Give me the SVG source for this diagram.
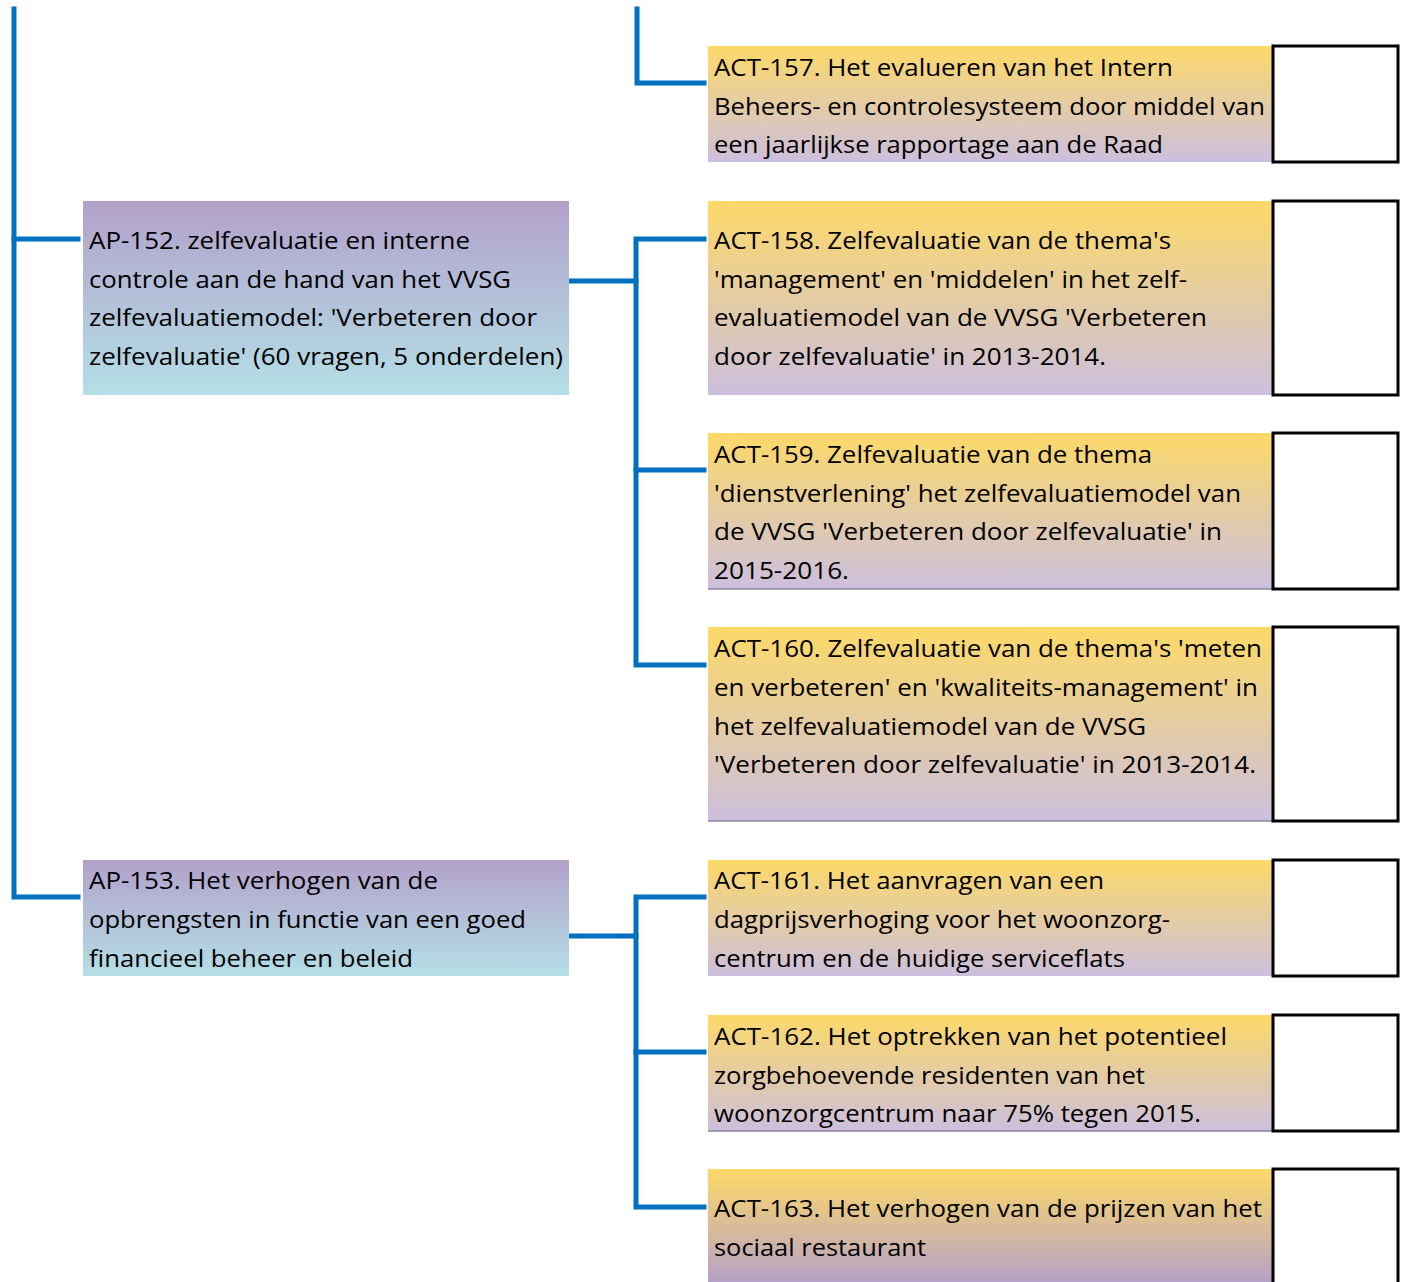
<svg xmlns="http://www.w3.org/2000/svg" width="1404" height="1282" viewBox="0 0 1404 1282">
<defs>
<linearGradient id="gAct" x1="0" y1="0" x2="0" y2="1">
<stop offset="0" stop-color="#FDD968"/>
<stop offset="1" stop-color="#CCBFDE"/>
</linearGradient>
<linearGradient id="gAct163" x1="0" y1="0" x2="0" y2="1">
<stop offset="0" stop-color="#FDD968"/>
<stop offset="1" stop-color="#B5A0C8"/>
</linearGradient>
<linearGradient id="gAp" x1="0" y1="0" x2="0" y2="1">
<stop offset="0" stop-color="#B3A1CA"/>
<stop offset="1" stop-color="#B3DFE6"/>
</linearGradient>
<style>
.conn{fill:none;stroke:#0070C0;stroke-width:5;stroke-linejoin:miter;stroke-linecap:square}
.t{font-family:"Open Sans","Liberation Sans",sans-serif;font-size:24px;fill:#000}
.chk{fill:#fff;stroke:#000;stroke-width:3}
.bl{stroke:#8C84A0;stroke-width:1.5}
</style>
</defs>

<g id="connectors">
<path class="conn" d="M14,9 V897 H78"/>
<path class="conn" d="M14,239 H78"/>
<path class="conn" d="M637,9 V83 H704"/>
<path class="conn" d="M571,281 H636"/>
<path class="conn" d="M704,239 H636 V665 H704"/>
<path class="conn" d="M636,470 H704"/>
<path class="conn" d="M571,936 H636"/>
<path class="conn" d="M704,897 H636 V1207 H704"/>
<path class="conn" d="M636,1052 H704"/>
</g>

<g id="ap152">
<rect x="83" y="201" width="486" height="194" fill="url(#gAp)"/>
<text class="t" x="89" y="249" textLength="381" lengthAdjust="spacingAndGlyphs">AP-152. zelfevaluatie en interne</text>
<text class="t" x="89" y="288" textLength="422" lengthAdjust="spacingAndGlyphs">controle aan de hand van het VVSG</text>
<text class="t" x="89" y="326" textLength="448" lengthAdjust="spacingAndGlyphs">zelfevaluatiemodel: 'Verbeteren door</text>
<text class="t" x="89" y="365" textLength="474" lengthAdjust="spacingAndGlyphs">zelfevaluatie' (60 vragen, 5 onderdelen)</text>
</g>

<g id="ap153">
<rect x="83" y="860" width="486" height="116" fill="url(#gAp)"/>
<text class="t" x="89" y="889" textLength="349" lengthAdjust="spacingAndGlyphs">AP-153. Het verhogen van de</text>
<text class="t" x="89" y="928" textLength="437" lengthAdjust="spacingAndGlyphs">opbrengsten in functie van een goed</text>
<text class="t" x="89" y="967" textLength="324" lengthAdjust="spacingAndGlyphs">financieel beheer en beleid</text>
</g>

<g id="act157">
<rect x="708" y="46" width="564" height="116" fill="url(#gAct)"/>
<rect class="chk" x="1273" y="46" width="125" height="116"/>
<text class="t" x="714" y="76" textLength="459" lengthAdjust="spacingAndGlyphs">ACT-157. Het evalueren van het Intern</text>
<text class="t" x="714" y="115" textLength="551" lengthAdjust="spacingAndGlyphs">Beheers- en controlesysteem door middel van</text>
<text class="t" x="714" y="153" textLength="449" lengthAdjust="spacingAndGlyphs">een jaarlijkse rapportage aan de Raad</text>
</g>

<g id="act158">
<rect x="708" y="201" width="564" height="194" fill="url(#gAct)"/>
<rect class="chk" x="1273" y="201" width="125" height="194"/>
<text class="t" x="714" y="249" textLength="457" lengthAdjust="spacingAndGlyphs">ACT-158. Zelfevaluatie van de thema's</text>
<text class="t" x="714" y="288" textLength="473" lengthAdjust="spacingAndGlyphs">'management' en 'middelen' in het zelf-</text>
<text class="t" x="714" y="326" textLength="493" lengthAdjust="spacingAndGlyphs">evaluatiemodel van de VVSG 'Verbeteren</text>
<text class="t" x="714" y="365" textLength="392" lengthAdjust="spacingAndGlyphs">door zelfevaluatie' in 2013-2014.</text>
</g>

<g id="act159">
<rect x="708" y="433" width="564" height="156" fill="url(#gAct)"/>
<line class="bl" x1="708" y1="589" x2="1272" y2="589"/>
<rect class="chk" x="1273" y="433" width="125" height="156"/>
<text class="t" x="714" y="463" textLength="438" lengthAdjust="spacingAndGlyphs">ACT-159. Zelfevaluatie van de thema</text>
<text class="t" x="714" y="502" textLength="527" lengthAdjust="spacingAndGlyphs">'dienstverlening' het zelfevaluatiemodel van</text>
<text class="t" x="714" y="540" textLength="508" lengthAdjust="spacingAndGlyphs">de VVSG 'Verbeteren door zelfevaluatie' in</text>
<text class="t" x="714" y="579" textLength="135" lengthAdjust="spacingAndGlyphs">2015-2016.</text>
</g>

<g id="act160">
<rect x="708" y="627" width="564" height="194" fill="url(#gAct)"/>
<line class="bl" x1="708" y1="821" x2="1272" y2="821"/>
<rect class="chk" x="1273" y="627" width="125" height="194"/>
<text class="t" x="714" y="657" textLength="548" lengthAdjust="spacingAndGlyphs">ACT-160. Zelfevaluatie van de thema's 'meten</text>
<text class="t" x="714" y="696" textLength="544" lengthAdjust="spacingAndGlyphs">en verbeteren' en 'kwaliteits-management' in</text>
<text class="t" x="714" y="735" textLength="432" lengthAdjust="spacingAndGlyphs">het zelfevaluatiemodel van de VVSG</text>
<text class="t" x="714" y="773" textLength="542" lengthAdjust="spacingAndGlyphs">'Verbeteren door zelfevaluatie' in 2013-2014.</text>
</g>

<g id="act161">
<rect x="708" y="860" width="564" height="116" fill="url(#gAct)"/>
<rect class="chk" x="1273" y="860" width="125" height="116"/>
<text class="t" x="714" y="889" textLength="390" lengthAdjust="spacingAndGlyphs">ACT-161. Het aanvragen van een</text>
<text class="t" x="714" y="928" textLength="456" lengthAdjust="spacingAndGlyphs">dagprijsverhoging voor het woonzorg-</text>
<text class="t" x="714" y="967" textLength="411" lengthAdjust="spacingAndGlyphs">centrum en de huidige serviceflats</text>
</g>

<g id="act162">
<rect x="708" y="1015" width="564" height="116" fill="url(#gAct)"/>
<line class="bl" x1="708" y1="1131" x2="1272" y2="1131"/>
<rect class="chk" x="1273" y="1015" width="125" height="116"/>
<text class="t" x="714" y="1045" textLength="513" lengthAdjust="spacingAndGlyphs">ACT-162. Het optrekken van het potentieel</text>
<text class="t" x="714" y="1084" textLength="431" lengthAdjust="spacingAndGlyphs">zorgbehoevende residenten van het</text>
<text class="t" x="714" y="1122" textLength="487" lengthAdjust="spacingAndGlyphs">woonzorgcentrum naar 75% tegen 2015.</text>
</g>

<g id="act163">
<rect x="708" y="1169" width="564" height="115" fill="url(#gAct163)"/>
<rect class="chk" x="1273" y="1169" width="125" height="130"/>
<text class="t" x="714" y="1217" textLength="548" lengthAdjust="spacingAndGlyphs">ACT-163. Het verhogen van de prijzen van het</text>
<text class="t" x="714" y="1256" textLength="212" lengthAdjust="spacingAndGlyphs">sociaal restaurant</text>
</g>
</svg>
